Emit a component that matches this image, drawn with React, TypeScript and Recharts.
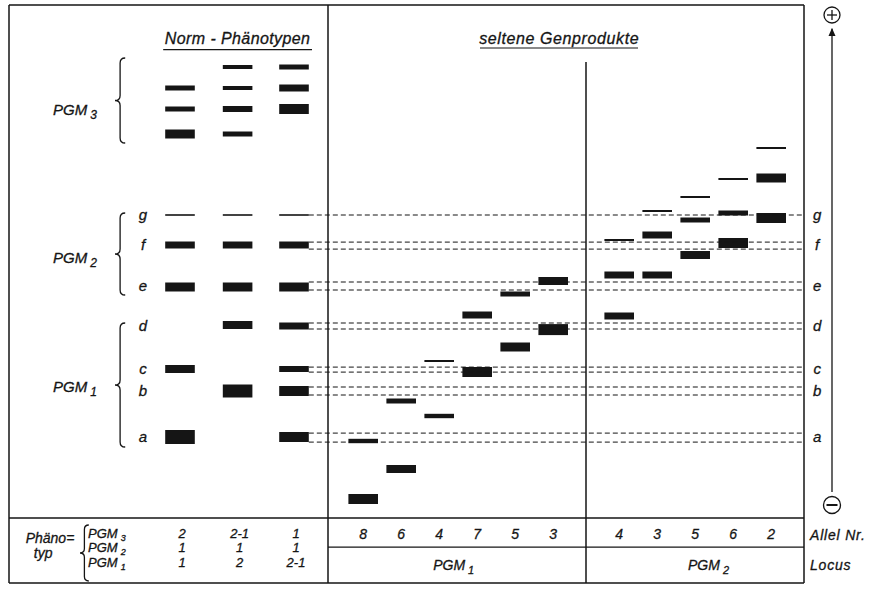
import React from "react";
import {
  ComposedChart,
  XAxis,
  YAxis,
  ReferenceArea,
  ReferenceLine,
  ReferenceDot,
  Scatter,
} from "recharts";

// x: Lage der Bahnen, y: Wanderungsstrecke in mm (0 = Unterkante Gel)
const normLaneX = [4.5, 5.94, 7.35];
const rarePgm1X = [9.08, 10.03, 10.98, 11.93, 12.88, 13.83];
const rarePgm2X = [15.48, 16.43, 17.38, 18.33, 19.28];

// Banden je Bahn: [Lage, Bandenbreite]
const normBands = [
  [[107.5, 1.25], [102.25, 1.25], [96, 2.25], [75.75, 0.4], [68.25, 1.75], [57.75, 2.25], [37.25, 2], [20.25, 3.5]],
  [[112.75, 1], [107.5, 1], [102.25, 1.5], [96, 1.25], [75.75, 0.4], [68.25, 1.75], [57.75, 2.25], [48.25, 2], [31.75, 3.25]],
  [[112.75, 1.25], [107.5, 1.75], [102.25, 2.5], [75.75, 0.4], [68.25, 1.75], [57.75, 2.25], [48, 1.75], [37.25, 1.5], [31.75, 2.5], [20.25, 2.5]],
];
const rarePgm1Bands = [
  [[19.25, 1.1], [4.75, 2.5]],
  [[29.25, 1.25], [12.25, 2]],
  [[39.25, 0.5], [25.5, 1.1]],
  [[50.75, 1.75], [36.5, 2.5]],
  [[56, 1.25], [42.75, 2.25]],
  [[59.25, 2], [47.1, 2.75]],
];
const rarePgm2Bands = [
  [[69.5, 0.5], [60.75, 1.75], [50.5, 1.75]],
  [[76.75, 0.5], [70.75, 1.75], [60.75, 1.75]],
  [[80.25, 0.5], [74.5, 1.25], [65.75, 2]],
  [[84.75, 0.5], [76.25, 1.25], [68.75, 2.5]],
  [[92.5, 0.5], [85, 2.25], [75, 2.5]],
];

// Bandenlagen g..a (Mitte und Abstand der gestrichelten Doppellinie)
const levelNames = ["g", "f", "e", "d", "c", "b", "a"];
const levelPos = [75.75, 68.1, 58, 48, 37.1, 31.75, 20.1];
const levelSpread = [0, 1.75, 2, 1.5, 1.25, 2, 2.25];

const rarePgm1Alleles = ["8", "6", "4", "7", "5", "3"];
const rarePgm2Alleles = ["4", "3", "5", "6", "2"];
const phenoPgm3 = ["2", "2-1", "1"];
const phenoPgm2 = ["1", "1", "1"];
const phenoPgm1 = ["1", "2", "2-1"];

const FONT = "'Liberation Sans', Arial, sans-serif";
const INK = "#151515";
const HALF = 0.37;

const T = (p: any) => (
  <text fontFamily={FONT} fontStyle="italic" fill={INK} stroke={INK} strokeWidth={0.3} {...p} />
);

const label = (key: string, x: number, y: number, node: React.ReactNode) => (
  <ReferenceDot
    key={key}
    x={x}
    y={y}
    r={0}
    shape={(p: any) => <g transform={`translate(${p.cx},${p.cy})`}>{node}</g>}
  />
);

const pgm = (n: string, size = 15) => (
  <>
    <tspan>PGM</tspan>
    <tspan dx={3} dy={size > 13 ? 4 : 3} fontSize={size - 3}>{n}</tspan>
  </>
);

const bracePath = (x: number, y: number, w: number, h: number) => {
  const sx = x + w * 0.5;
  const r = Math.min(w * 0.5, h * 0.08);
  const my = y + h / 2;
  return `M${x + w},${y} Q${sx},${y} ${sx},${y + r} L${sx},${my - r} Q${sx},${my} ${x},${my} Q${sx},${my} ${sx},${my + r} L${sx},${y + h - r} Q${sx},${y + h} ${x + w},${y + h}`;
};

const brace = (key: string, x1: number, x2: number, y1: number, y2: number) => (
  <ReferenceArea
    key={key}
    x1={x1}
    x2={x2}
    y1={y1}
    y2={y2}
    shape={(p: any) => (
      <path d={bracePath(p.x, p.y, p.width, p.height)} fill="none" stroke={INK} strokeWidth={1.3} />
    )}
  />
);

const bands = (lanes: number[], sets: number[][][], id: string) =>
  lanes.flatMap((x, i) =>
    sets[i].map(([pos, th], j) => (
      <ReferenceArea
        key={`${id}-${i}-${j}`}
        x1={x - HALF}
        x2={x + HALF}
        y1={pos - th / 2}
        y2={pos + th / 2}
        fill={INK}
        fillOpacity={1}
        stroke="none"
      />
    ))
  );

const seg = (key: string, x1: number, y1: number, x2: number, y2: number, w = 1.5, dash?: string) => (
  <ReferenceLine
    key={key}
    segment={[{ x: x1, y: y1 }, { x: x2, y: y2 }]}
    stroke={INK}
    strokeWidth={w}
    strokeDasharray={dash}
  />
);

const alleleData = [
  ...rarePgm1X.map((x, i) => ({ x, y: -4.1, a: rarePgm1Alleles[i] })),
  ...rarePgm2X.map((x, i) => ({ x, y: -4.1, a: rarePgm2Alleles[i] })),
];

const BOX = { l: 0.225, r: 20.1, t: 128.25, b: -16.25 };

export default function App() {
  const dashed: React.ReactNode[] = [];
  levelPos.forEach((p, i) => {
    const s = levelSpread[i];
    const xs = normLaneX[2] + HALF;
    if (s === 0) dashed.push(seg(`d${i}`, xs, p, BOX.r, p, 1, "5 3"));
    else {
      dashed.push(seg(`d${i}a`, xs, p + s / 2, BOX.r, p + s / 2, 1, "5 3"));
      dashed.push(seg(`d${i}b`, xs, p - s / 2, BOX.r, p - s / 2, 1, "5 3"));
    }
  });

  return (
    <div style={{ position: "absolute", left: 0, top: 0, width: 880, height: 594, background: "#fff" }}>
      <ComposedChart width={880} height={594} margin={{ top: 0, right: 0, bottom: 0, left: 0 }}>
        <XAxis type="number" dataKey="x" domain={[0, 22]} hide allowDataOverflow />
        <YAxis type="number" dataKey="y" domain={[-19, 129.5]} hide allowDataOverflow />

        {/* Rahmen und Tabellenlinien */}
        {seg("bt", BOX.l, BOX.t, BOX.r, BOX.t)}
        {seg("bb", BOX.l, BOX.b, BOX.r, BOX.b)}
        {seg("bl", BOX.l, BOX.b, BOX.l, BOX.t)}
        {seg("br", BOX.r, BOX.b, BOX.r, BOX.t)}
        {seg("v1", 8.2, BOX.b, 8.2, BOX.t)}
        {seg("v2", 14.65, BOX.b, 14.65, 114)}
        {seg("h1", BOX.l, 0, BOX.r, 0)}
        {seg("h2", 8.2, -7.3, BOX.r, -7.3, 1.2)}

        {dashed}

        {bands(normLaneX, normBands, "n")}
        {bands(rarePgm1X, rarePgm1Bands, "r1")}
        {bands(rarePgm2X, rarePgm2Bands, "r2")}

        {/* Überschriften */}
        {label("t1", 5.94, 118.4, <T textAnchor="middle" fontSize={16} letterSpacing={0.4}>Norm - Phänotypen</T>)}
        {seg("u1", 4.08, 117.1, 7.8, 117.1, 1.2)}
        {label("t2", 13.98, 118.6, <T textAnchor="middle" fontSize={16} letterSpacing={0.6}>seltene  Genprodukte</T>)}
        {seg("u2", 12.0, 117.5, 15.95, 117.5, 1.2)}

        {/* Locus-Beschriftungen links */}
        {label("p3", 1.325, 100.75, <T fontSize={15}>{pgm("3")}</T>)}
        {label("p2", 1.325, 63.75, <T fontSize={15}>{pgm("2")}</T>)}
        {label("p1", 1.325, 31.5, <T fontSize={15}>{pgm("1")}</T>)}
        {brace("b3", 2.875, 3.13, 93.75, 115)}
        {brace("b2", 2.875, 3.13, 55.75, 76.25)}
        {brace("b1", 2.875, 3.13, 17.75, 48.75)}

        {levelNames.map((n, i) =>
          label(`ll${i}`, 3.575, levelPos[i], <T textAnchor="middle" dy="0.3em" fontSize={15}>{n}</T>)
        )}
        {levelNames.map((n, i) =>
          label(`lr${i}`, 20.43, levelPos[i], <T textAnchor="middle" dy="0.3em" fontSize={15}>{n}</T>)
        )}

        {/* Laufrichtung */}
        {seg("arr", 20.8, 6.5, 20.8, 122.3, 1.3)}
        {label("ah", 20.8, 122.5, <path d="M0,0 L-3.5,8 L3.5,8 Z" fill={INK} />)}
        {label("plus", 20.8, 125.75, (
          <g stroke={INK} strokeWidth={1.3} fill="none">
            <circle r={8} />
            <line x1={-5} x2={5} />
            <line y1={-5} y2={5} />
          </g>
        ))}
        {label("minus", 20.8, 3.25, (
          <g stroke={INK} strokeWidth={1.3} fill="none">
            <circle r={8.5} />
            <line x1={-5.5} x2={5.5} strokeWidth={2} />
          </g>
        ))}

        {/* Tabelle */}
        {label("ph", 1.25, -6.25, <T textAnchor="middle" fontSize={14}>Phäno=</T>)}
        {label("ty", 1.08, -10, <T textAnchor="middle" fontSize={14}>typ</T>)}
        {brace("bt", 2.0, 2.22, -15.75, -1.75)}
        {label("tp3", 2.2, -4.9, <T fontSize={13}>{pgm("3", 12)}</T>)}
        {label("tp2", 2.2, -8.5, <T fontSize={13}>{pgm("2", 12)}</T>)}
        {label("tp1", 2.2, -12.2, <T fontSize={13}>{pgm("1", 12)}</T>)}
        {normLaneX.map((x, i) => label(`v3${i}`, x + 0.05, -4.9, <T textAnchor="middle" fontSize={13}>{phenoPgm3[i]}</T>))}
        {normLaneX.map((x, i) => label(`v2${i}`, x + 0.05, -8.5, <T textAnchor="middle" fontSize={13}>{phenoPgm2[i]}</T>))}
        {normLaneX.map((x, i) => label(`v1${i}`, x + 0.05, -12.2, <T textAnchor="middle" fontSize={13}>{phenoPgm1[i]}</T>))}

        <Scatter
          data={alleleData}
          isAnimationActive={false}
          shape={(p: any) => (
            <text x={p.cx} y={p.cy} dy="0.35em" textAnchor="middle" fontFamily={FONT} fontStyle="italic"
              fontSize={14} fill={INK} stroke={INK} strokeWidth={0.3}>
              {p.payload.a}
            </text>
          )}
        />
        {label("an", 20.25, -5.5, <T fontSize={14} letterSpacing={0.8}>Allel Nr.</T>)}
        {label("lo", 20.25, -13, <T fontSize={14} letterSpacing={0.8}>Locus</T>)}
        {label("lp1", 10.83, -13, <T fontSize={14}>{pgm("1", 14)}</T>)}
        {label("lp2", 17.2, -13, <T fontSize={14}>{pgm("2", 14)}</T>)}
      </ComposedChart>
    </div>
  );
}
